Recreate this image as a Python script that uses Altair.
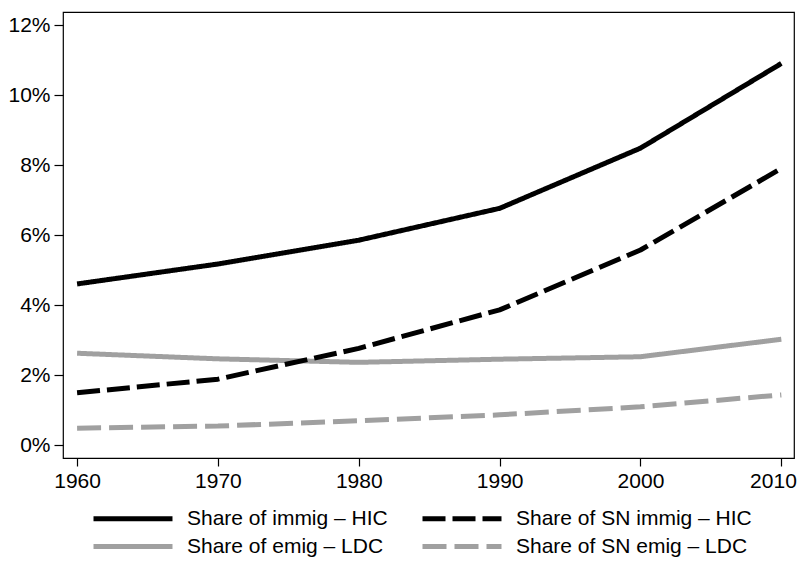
import altair as alt
import pandas as pd

years = [1960, 1970, 1980, 1990, 2000, 2010]
immig_hic = [4.61, 5.18, 5.86, 6.77, 8.49, 10.91]
sn_immig_hic = [1.50, 1.89, 2.77, 3.87, 5.58, 7.91]
emig_ldc = [2.63, 2.47, 2.37, 2.46, 2.53, 3.03]
sn_emig_ldc = [0.49, 0.55, 0.70, 0.87, 1.10, 1.44]

# legend is filled column by column: column 1 = solid lines, column 2 = dashed
series_names = [
    "Share of immig – HIC",
    "Share of emig – LDC",
    "Share of SN immig – HIC",
    "Share of SN emig – LDC",
]
series_values = [immig_hic, emig_ldc, sn_immig_hic, sn_emig_ldc]
series_colors = ["#000000", "#a0a0a0", "#000000", "#a0a0a0"]
series_dashes = [[1, 0], [1, 0], [23, 7], [24, 8]]

rows = []
for name, vals in zip(series_names, series_values):
    for y, v in zip(years, vals):
        rows.append({"year": y, "value": v, "series": name})
df = pd.DataFrame(rows)

FONT = "Liberation Sans"

chart = (
    alt.Chart(df)
    .mark_line(strokeWidth=5, strokeCap="butt", strokeJoin="round")
    .encode(
        x=alt.X(
            "year:Q",
            scale=alt.Scale(domain=[1959, 2010.9], nice=False, zero=False),
            axis=alt.Axis(
                values=years, format="d", title=None, grid=False, domain=False,
                tickSize=8, labelPadding=4, labelFlush=13, labelFlushOffset=15,
            ),
        ),
        y=alt.Y(
            "value:Q",
            scale=alt.Scale(domain=[-0.363, 12.38], nice=False, zero=False),
            axis=alt.Axis(
                values=[0, 2, 4, 6, 8, 10, 12], labelExpr="datum.value + '%'",
                title=None, grid=False, domain=False, tickSize=9, labelPadding=4,
            ),
        ),
        color=alt.Color(
            "series:N",
            scale=alt.Scale(domain=series_names, range=series_colors),
            legend=alt.Legend(
                title=None, orient="none", legendX=20, legendY=496, columns=2,
                symbolType="M0,0H20", symbolSize=62.4, symbolStrokeWidth=5,
                labelFontSize=21, labelFont=FONT, labelColor="#000000",
                labelOffset=83, columnPadding=24, rowPadding=6,
                labelLimit=400,
            ),
        ),
        strokeDash=alt.StrokeDash(
            "series:N",
            scale=alt.Scale(domain=series_names, range=series_dashes),
            legend=None,
        ),
        detail="series:N",
    )
    .properties(
        width=731,
        height=446,
        autosize=alt.AutoSizeParams(type="none"),
        padding={"left": 55, "top": 4, "right": 4, "bottom": 101},
    )
    .configure_view(stroke="#000000", strokeWidth=1.2)
    .configure_axis(
        labelFont=FONT, labelFontSize=21, labelColor="#000000",
        tickColor="#000000", tickWidth=1.2,
    )
)

chart.save("out.html", embed_options={"renderer": "svg", "actions": False})
